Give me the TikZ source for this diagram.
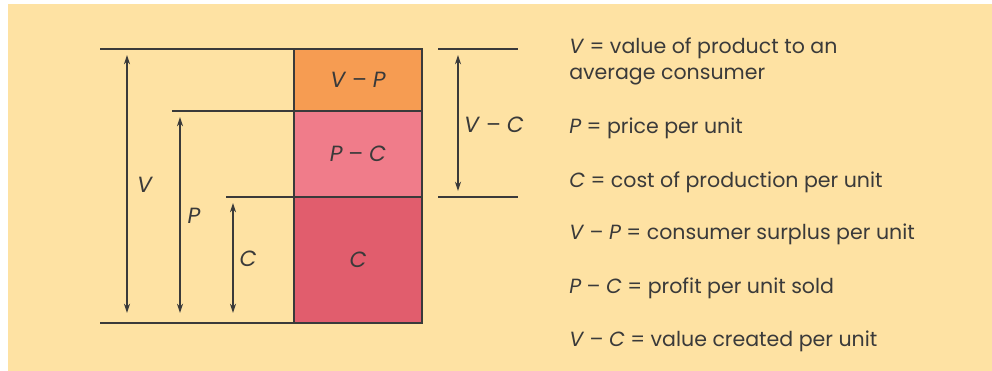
\documentclass[tikz,border=0pt]{standalone}
\usepackage{fontspec}
\setmainfont{Poppins}
\usetikzlibrary{arrows.meta}
\definecolor{paper}{HTML}{FEE2A3}
\definecolor{inkgray}{HTML}{3A3A3A}
\definecolor{surplus}{HTML}{F69C52}
\definecolor{profit}{HTML}{F07C8A}
\definecolor{cost}{HTML}{E15D6D}
\begin{document}
\begin{tikzpicture}[
        x=0.75pt, y=-0.75pt,
        every node/.style={text=inkgray, font=\fontsize{16.5}{19}\selectfont},
        part/.style={draw=inkgray, line width=0.9pt, minimum width=96pt, inner sep=0pt, outer sep=0pt, anchor=north},
        level/.style={draw=inkgray, line width=0.9pt},
        span/.style={draw=inkgray, line width=0.9pt, {Stealth[length=7pt,width=4.5pt]}-{Stealth[length=7pt,width=4.5pt]}},
        legend/.style={anchor=base west, inner sep=0pt, font=\fontsize{15.4}{18}\selectfont},
    ]
    % background
    \fill[white] (0,0) rectangle (992,371);
    \fill[paper] (8,4) rectangle (992,371);
    \useasboundingbox (0,0) rectangle (992,371);

    % stacked bar
    \node[part, fill=surplus, minimum height=46.5pt] (vp) at (358,49) {\textit{V} – \textit{P}};
    \node[part, fill=profit, minimum height=64.5pt] (pc) at (vp.south) {\textit{P} – \textit{C}};
    \node[part, fill=cost, minimum height=94.5pt] (c) at (pc.south) {\textit{C}};

    % levels on the left
    \coordinate (vtop) at (100,49);
    \coordinate (ptop) at (172,111);
    \coordinate (ctop) at (226,197);
    \coordinate (base) at (100,323);
    \draw[level] (vtop) -- (vtop -| vp.west);
    \draw[level] (ptop) -- (ptop -| vp.west);
    \draw[level] (ctop) -- (ctop -| vp.west);
    \draw[level] (base) -- (base -| vp.west);

    % levels on the right
    \coordinate (rtop) at (438,49);
    \coordinate (rlow) at (518,197);
    \draw[level] (rtop) -- (518,49);
    \draw[level] (438,197) -- (rlow);

    % spans
    \coordinate (va) at (127,55);
    \coordinate (vb) at (127,313);
    \coordinate (pa) at (180,117);
    \coordinate (pb) at (180,313);
    \coordinate (ca) at (233,203);
    \coordinate (cb) at (233,313);
    \coordinate (vca) at (458,55);
    \coordinate (vcb) at (458,191);
    \draw[span] (va) -- (vb);
    \draw[span] (pa) -- (pb);
    \draw[span] (ca) -- (cb);
    \draw[span] (vca) -- (vcb);
    \node (vlab) at (145,185) {\textit{V}};
    \node (plab) at (194,216) {\textit{P}};
    \node (clab) at (248,259) {\textit{C}};
    \node (vclab) at (494,125) {\textit{V} – \textit{C}};

    % legend
    \node[legend] (l1) at (569,53) {\textit{V} = value of product to an};
    \node[legend] (l1b) at (569,79) {average consumer};
    \node[legend] (l2) at (569,133) {\textit{P} = price per unit};
    \node[legend] (l3) at (569,187) {\textit{C} = cost of production per unit};
    \node[legend] (l4) at (569,239) {\textit{V} – \textit{P} = consumer surplus per unit};
    \node[legend] (l5) at (569,293) {\textit{P} – \textit{C} = profit per unit sold};
    \node[legend] (l6) at (569,346) {\textit{V} – \textit{C} = value created per unit};
\end{tikzpicture}
\end{document}
